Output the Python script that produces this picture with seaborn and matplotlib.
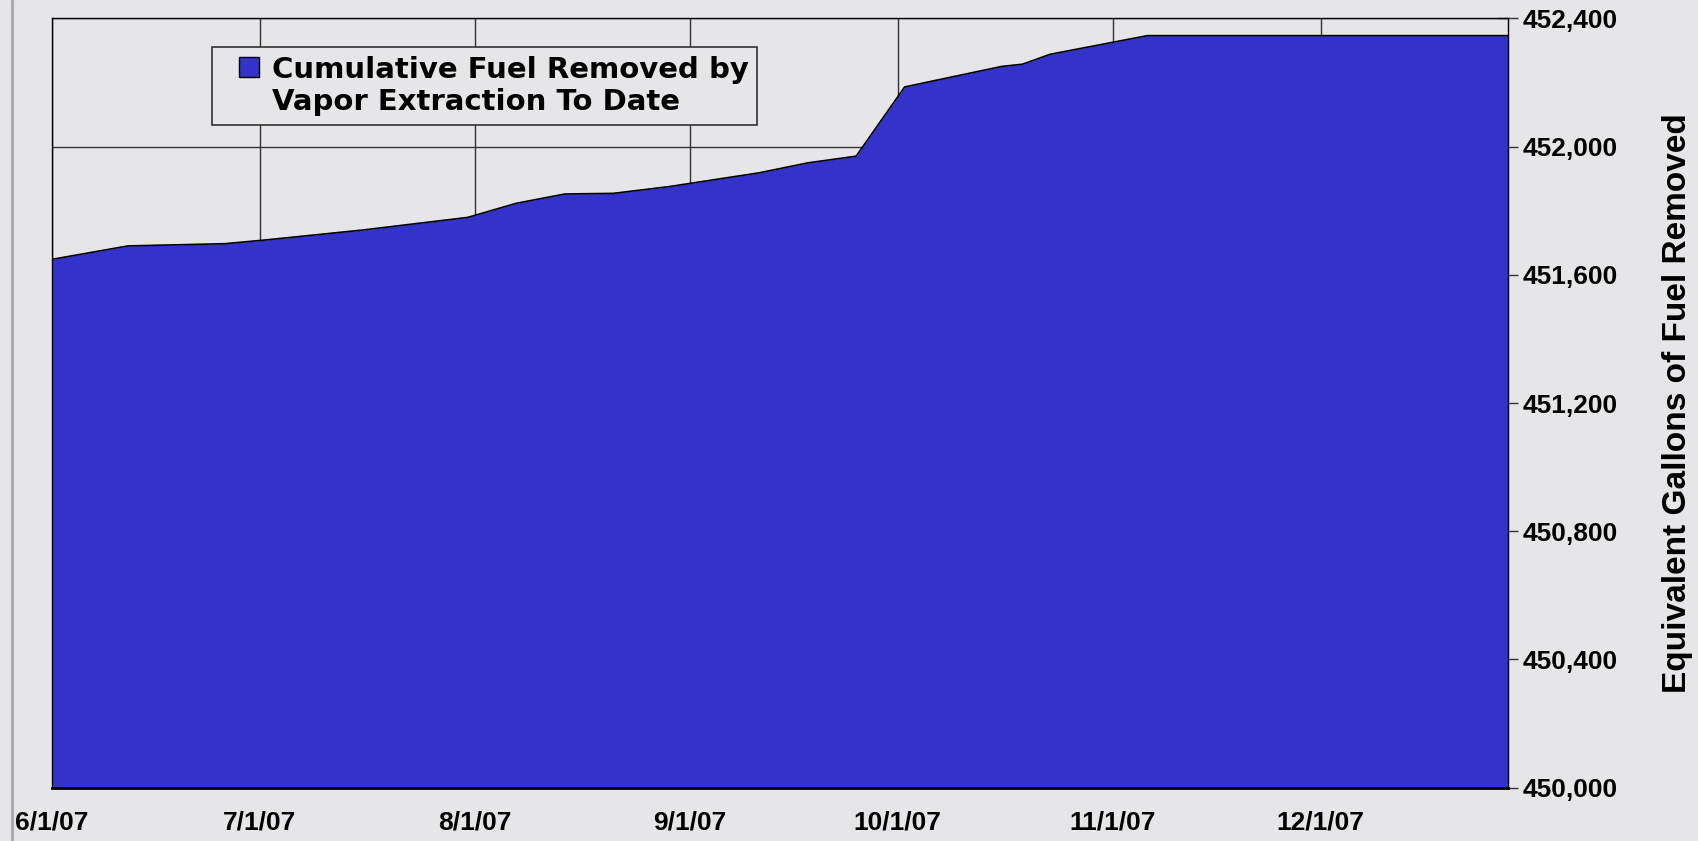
import pandas as pd
import matplotlib
matplotlib.use('Agg')
import matplotlib.pyplot as plt
import matplotlib.dates as mdates
from matplotlib.lines import Line2D
from matplotlib.ticker import FuncFormatter, MultipleLocator
import seaborn as sns

# readings taken off the chart
dates = ['2007-06-01', '2007-06-12', '2007-06-26', '2007-07-02', '2007-07-16',
         '2007-07-31', '2007-08-07', '2007-08-14', '2007-08-21', '2007-08-29',
         '2007-09-11', '2007-09-18', '2007-09-25', '2007-10-02', '2007-10-16',
         '2007-10-19', '2007-10-23', '2007-11-06', '2007-12-28']
gallons = [451648, 451690, 451697, 451709, 451740,
           451779, 451823, 451852, 451854, 451875,
           451918, 451949, 451970, 452186, 452250,
           452257, 452288, 452346, 452346]

tick_dates = ['2007-06-01', '2007-07-01', '2007-08-01', '2007-09-01',
              '2007-10-01', '2007-11-01', '2007-12-01']
x_start, x_end = '2007-06-01', '2007-12-28'
y_min, y_max, y_step = 450000, 452400, 400

legend_label = 'Cumulative Fuel Removed by\nVapor Extraction To Date'
y_title = 'Equivalent Gallons of Fuel Removed'

bg = '#e6e6e8'
fill_color = '#3333cc'

sns.set_theme(style='white')
plt.rcParams['font.family'] = ['Liberation Sans', 'DejaVu Sans']
plt.rcParams['font.weight'] = 'bold'
plt.rcParams['text.color'] = 'black'

df = pd.DataFrame({'date': pd.to_datetime(dates), 'gallons': gallons})

fig = plt.figure(figsize=(16.99, 8.41), dpi=100, facecolor=bg)
ax = fig.add_axes([0.0304, 0.0634, 0.8572, 0.9148])
ax.set_facecolor(bg)

# area + outline
ax.fill_between(df['date'], df['gallons'], y_min, color=fill_color, lw=0, zorder=2)
sns.lineplot(data=df, x='date', y='gallons', color='black', lw=1.2, ax=ax, zorder=3)

ax.set_xlim(pd.Timestamp(x_start), pd.Timestamp(x_end))
ax.set_ylim(y_min, y_max)
ax.set_xticks(pd.to_datetime(tick_dates))
ax.xaxis.set_major_formatter(FuncFormatter(
    lambda v, p: '{d.month}/{d.day}/{d:%y}'.format(d=mdates.num2date(v))))
ax.yaxis.set_major_locator(MultipleLocator(y_step))
ax.yaxis.set_major_formatter(FuncFormatter(lambda v, p: f'{v:,.0f}'))

ax.grid(True, color='#333333', lw=1)
ax.set_axisbelow(True)
for s in ax.spines.values():
    s.set_visible(True)
    s.set_color('black')
    s.set_linewidth(1)
ax.spines['bottom'].set_linewidth(2)

ax.yaxis.tick_right()
ax.yaxis.set_label_position('right')
ax.tick_params(axis='both', direction='inout', length=15, width=1,
               color='#333333', labelcolor='black', labelsize=19)
ax.tick_params(axis='x', pad=9)
ax.tick_params(axis='y', pad=3)

ax.set_xlabel('')
ax.set_ylabel(y_title, fontsize=24, fontweight='bold', color='black')
ax.yaxis.set_label_coords(1.106, 0.5)

handle = Line2D([], [], ls='none', marker='s', markersize=15,
                markerfacecolor=fill_color, markeredgecolor='black', markeredgewidth=1)
leg = ax.legend([handle], [legend_label], loc='upper left',
                bbox_to_anchor=(0.110, 0.9627), borderaxespad=0,
                prop={'family': 'DejaVu Sans', 'weight': 'bold', 'size': 21},
                labelcolor='black',
                frameon=True, fancybox=False, handlelength=1.97, handleheight=0.98,
                handletextpad=-0.22, borderpad=0.3, facecolor=bg,
                edgecolor='#333333', framealpha=1)
leg.get_frame().set_linewidth(1.2)
leg.get_texts()[0].set_linespacing(1.2)
# put the swatch next to the first line of the label
for col in leg._legend_handle_box.get_children():
    for item in col.get_children():
        item.align = 'top'

# grey rule at the far left of the slide
fig.add_artist(plt.Line2D([12 / 1699, 12 / 1699], [0, 1], color='#a8a8a8', lw=2))

fig.savefig('out.png', dpi=100, facecolor=bg)
